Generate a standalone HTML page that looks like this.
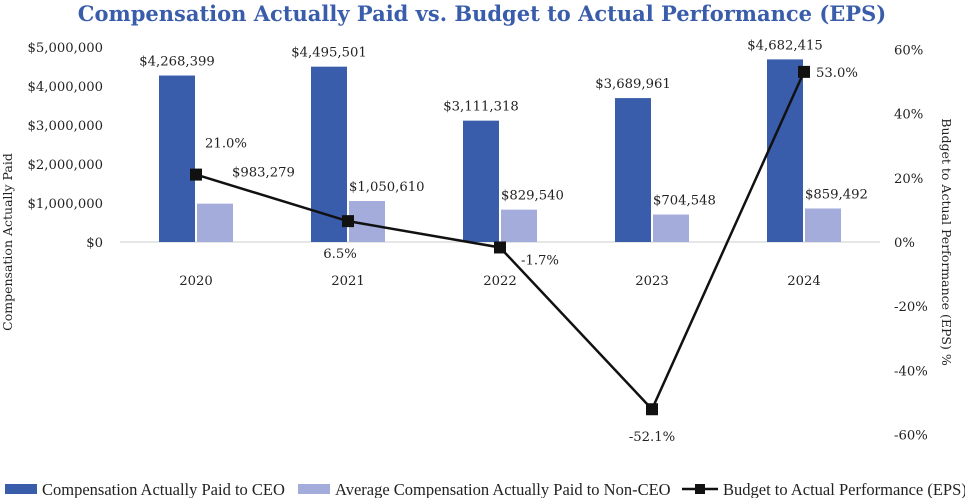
<!DOCTYPE html>
<html><head><meta charset="utf-8">
<style>
html,body{margin:0;padding:0;background:#fff;}
svg{display:block;font-family:"DejaVu Serif","Liberation Serif",serif;}
</style></head>
<body>
<svg id="chart" width="965" height="498" viewBox="0 0 965 498">
<text x="482" y="21" text-anchor="middle" font-size="21" font-weight="bold" fill="#3a5dab">Compensation Actually Paid vs. Budget to Actual Performance (EPS)</text>
<text transform="translate(12,242) rotate(-90)" text-anchor="middle" font-size="12.5" fill="#222">Compensation Actually Paid</text>
<text transform="translate(942,242) rotate(90)" text-anchor="middle" font-size="12.5" fill="#222">Budget to Actual Performance (EPS) %</text>
<g id="axes"></g>
<g id="bars"></g>
<g id="line"></g>
<g id="legend" font-family="Liberation Serif, serif">
<rect x="5" y="484" width="32" height="10" fill="#3a5dab"/>
<text x="42" y="495" font-size="16.5" fill="#222">Compensation Actually Paid to CEO</text>
<rect x="298" y="484" width="32" height="10" fill="#a3acdb"/>
<text x="335" y="495" font-size="16.5" fill="#222">Average Compensation Actually Paid to Non-CEO</text>
<line x1="682" y1="489" x2="718" y2="489" stroke="#111" stroke-width="2.5"/>
<rect x="695" y="484" width="10" height="10" fill="#111"/>
<text x="723" y="495" font-size="16.5" fill="#222">Budget to Actual Performance (EPS)</text>
</g>
</svg>
<script>
const categories = ["2020","2021","2022","2023","2024"];
const ceoValues = [4268399,4495501,3111318,3689961,4682415];
const nonCeoValues = [983279,1050610,829540,704548,859492];
const epsValues = [21.0,6.5,-1.7,-52.1,53.0];
const leftTicks = [0,1000000,2000000,3000000,4000000,5000000];
const rightTicks = [-60,-40,-20,0,20,40,60];

const NS="http://www.w3.org/2000/svg";
function mk(tag,attrs,parent,text){const e=document.createElementNS(NS,tag);for(const k in attrs)e.setAttribute(k,attrs[k]);if(text!==undefined)e.textContent=text;parent.appendChild(e);return e;}
const yL=v=>242-v/1000000*39;
const yR=v=>242-v/20*64.2;
const xC=i=>196+i*152;
const money=v=>"$"+v.toLocaleString("en-US");
const axes=document.getElementById("axes"),bars=document.getElementById("bars"),line=document.getElementById("line");
const FS=13.2;

leftTicks.forEach(t=>{
  const e=mk("text",{x:103,y:yL(t)+5,"text-anchor":"end","font-size":FS,fill:"#222"},axes,money(t));
  
  
});
rightTicks.forEach(t=>{
  const e=mk("text",{x:894,y:yR(t)+5,"font-size":FS,fill:"#222"},axes,t+"%");
  
  
});
const base=mk("line",{x1:120,y1:242,x2:880,y2:242,stroke:"#ccc","stroke-width":1},axes);



categories.forEach((c,i)=>{
  const cx=xC(i);
  const lab=mk("text",{x:cx,y:285,"text-anchor":"middle","font-size":FS,fill:"#222"},axes,c);
  
  
  const b1=mk("rect",{x:cx-37,y:yL(ceoValues[i]),width:36,height:242-yL(ceoValues[i]),fill:"#3a5dab"},bars);
  
  
  const t1=mk("text",{x:cx-19,y:yL(ceoValues[i])-10,"text-anchor":"middle","font-size":FS,fill:"#222"},bars,money(ceoValues[i]));
  
  
  const b2=mk("rect",{x:cx+1,y:yL(nonCeoValues[i]),width:36,height:242-yL(nonCeoValues[i]),fill:"#a3acdb"},bars);
  
  
  const shift=(i===0)?36:1, lift=(i===0)?27:10;
  const t2=mk("text",{x:cx+shift,y:yL(nonCeoValues[i])-lift,"text-anchor":"start","font-size":FS,fill:"#222"},bars,money(nonCeoValues[i]));
  
  
});

const pts=epsValues.map((v,i)=>xC(i)+","+yR(v)).join(" ");
const pl=mk("polyline",{points:pts,fill:"none",stroke:"#111","stroke-width":2.5},line);


const labOff=[[30,-27,"middle"],[-8,37,"middle"],[21,17,"start"],[0,32,"middle"],[12,5,"start"]];
epsValues.forEach((v,i)=>{
  const x=xC(i),y=yR(v);
  const m=mk("rect",{x:x-6,y:y-6,width:12,height:12,fill:"#111"},line);
  
  
  const o=labOff[i];
  const t=mk("text",{x:x+o[0],y:y+o[1],"text-anchor":o[2],"font-size":FS,fill:"#222"},line,v.toFixed(1)+"%");
  
  
});
</script>
</body></html>
